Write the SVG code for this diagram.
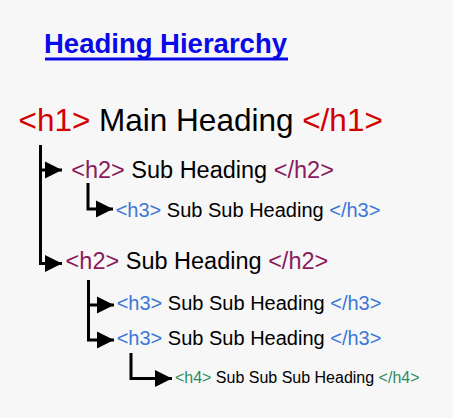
<svg xmlns="http://www.w3.org/2000/svg" width="453" height="418" viewBox="0 0 453 418">
  <defs>
    <style>
      text { font-family: "Liberation Sans", Arial, sans-serif; fill: #000; }
      .title { font-weight: bold; fill: #0a0ae8; font-size: 27px; }
      .t1 { fill: #d30000; }
      .t2 { fill: #8a1a5c; }
      .t3 { fill: #3c78d8; }
      .t4 { fill: #2e8a5e; }
      .conn { fill: none; stroke: #000; stroke-width: 3; marker-end: url(#arrow); }
    </style>
    <marker id="arrow" markerUnits="userSpaceOnUse" markerWidth="18" markerHeight="18" refX="17" refY="8.5" orient="auto" overflow="visible">
      <path d="M0,0 L17,8.5 L0,17 Z" fill="#000"/>
    </marker>
  </defs>
  <rect width="453" height="418" fill="#f7f7f7"/>

  <g id="title">
    <text class="title" x="44" y="53" textLength="243" lengthAdjust="spacingAndGlyphs">Heading Hierarchy</text>
    <rect x="45" y="57.5" width="243" height="3" fill="#0a0ae8"/>
  </g>

  <g id="connectors">
    <path class="conn" d="M40.5,145 V263.5 H62"/>
    <path class="conn" d="M40.5,170 H62"/>
    <path class="conn" d="M88,183 V209 H113"/>
    <path class="conn" d="M88.5,280 V340 H114"/>
    <path class="conn" d="M88.5,305 H114"/>
    <path class="conn" d="M131,353 V378.5 H172"/>
  </g>

  <g id="h1">
    <text x="18.5" y="131" font-size="31.5"><tspan class="t1">&lt;h1&gt;</tspan> Main Heading <tspan class="t1">&lt;/h1&gt;</tspan></text>
  </g>
  <g id="h2-a">
    <text x="71.2" y="177.5" font-size="23.5"><tspan class="t2">&lt;h2&gt;</tspan> Sub Heading <tspan class="t2">&lt;/h2&gt;</tspan></text>
  </g>
  <g id="h3-a">
    <text x="115.7" y="216.5" font-size="20"><tspan class="t3">&lt;h3&gt;</tspan> Sub Sub Heading <tspan class="t3">&lt;/h3&gt;</tspan></text>
  </g>
  <g id="h2-b">
    <text x="65.6" y="269" font-size="23.5"><tspan class="t2">&lt;h2&gt;</tspan> Sub Heading <tspan class="t2">&lt;/h2&gt;</tspan></text>
  </g>
  <g id="h3-b">
    <text x="116.7" y="310" font-size="20"><tspan class="t3">&lt;h3&gt;</tspan> Sub Sub Heading <tspan class="t3">&lt;/h3&gt;</tspan></text>
  </g>
  <g id="h3-c">
    <text x="116.7" y="345" font-size="20"><tspan class="t3">&lt;h3&gt;</tspan> Sub Sub Heading <tspan class="t3">&lt;/h3&gt;</tspan></text>
  </g>
  <g id="h4">
    <text x="174.9" y="383" font-size="16"><tspan class="t4">&lt;h4&gt;</tspan> Sub Sub Sub Heading <tspan class="t4">&lt;/h4&gt;</tspan></text>
  </g>
</svg>
